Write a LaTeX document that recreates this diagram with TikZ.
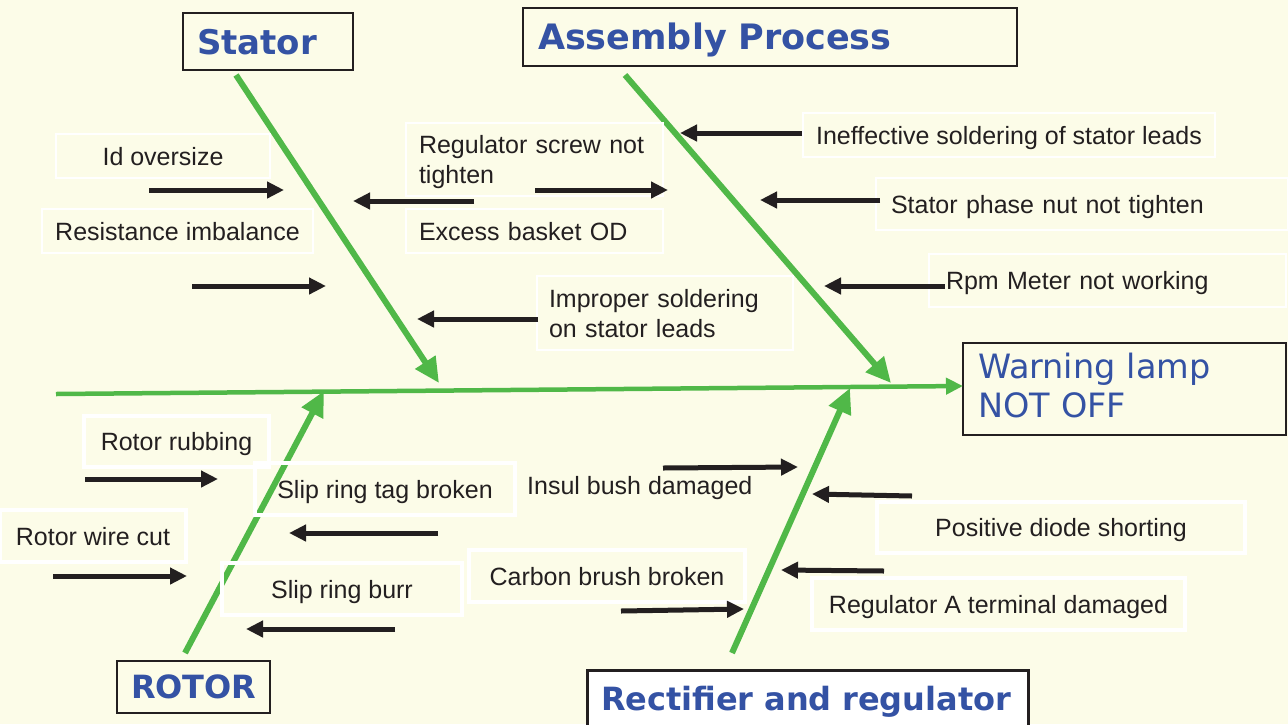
\documentclass[tikz,border=0pt]{standalone}
\usepackage{fontspec}
\setmainfont{Liberation Sans}
\newfontfamily\titlefont{DejaVu Sans}
\usetikzlibrary{arrows.meta}
\definecolor{bgc}{HTML}{FCFCE8}
\definecolor{bone}{HTML}{50B848}
\definecolor{ttl}{HTML}{3452A4}
\definecolor{txt}{HTML}{231F20}
\tikzset{
  lbl/.style={draw=white, line width=1.5pt, font=\fontsize{25}{30}\selectfont, text=txt,
    text height=18pt, text depth=0pt, inner sep=0pt},
  lblb/.style={lbl, line width=4pt},
  lblleft/.style={align=left, text width=#1},
  catbox/.style={draw=txt, line width=1.3pt, text=ttl, inner xsep=14pt, inner ysep=0pt,
    text height=25pt, text depth=0pt, align=left},
  cause/.style={draw=txt, line width=5pt, -{Triangle[length=17pt,width=16pt]}},
  bonearrow/.style={draw=bone, line width=6pt, -{Triangle[length=25pt,width=23pt]}},
  spinearrow/.style={draw=bone, line width=4.5pt, -{Triangle[length=17pt,width=16pt]}}
}
\begin{document}
\begin{tikzpicture}[x=1pt,y=-1pt]
\path[use as bounding box, fill=bgc] (0,0) rectangle (1288,724);
\clip (0,0) rectangle (1288,724);

% category boxes
\node[catbox, minimum width=170pt, minimum height=57pt, text width=142pt,
  font=\titlefont\bfseries\fontsize{34}{40}\selectfont] (stator) at (268,41.5) {Stator};
\node[catbox, minimum width=494pt, minimum height=58pt, text width=464pt, inner xsep=15pt,
  font=\titlefont\bfseries\fontsize{35}{40}\selectfont] (assembly) at (770,37) {Assembly Process};
\node[catbox, minimum width=153pt, minimum height=52pt, text width=125pt,
  font=\titlefont\bfseries\fontsize{32}{38}\selectfont, text height=23pt] (rotor) at (193.5,687) {ROTOR};
\node[catbox, line width=3pt, fill=white, minimum width=441pt, minimum height=57pt, text width=413pt,
  font=\titlefont\bfseries\fontsize{32}{38}\selectfont, text height=23pt] (rectifier) at (807.5,698.5) {Rectifier and regulator};
\node[catbox, line width=1.8pt, minimum width=323pt, minimum height=92pt, text width=293pt, inner xsep=15pt,
  font=\titlefont\fontsize{33.5}{39}\selectfont, text height=25pt, text depth=47pt] (effect) at (1124.5,389) {Warning lamp\\NOT OFF};

% spine and bones
\coordinate (spineS) at (56,394);
\coordinate (spineE) at (963,386);
\draw[spinearrow] (spineS) -- (spineE);
\coordinate (b1s) at (236,75);   \coordinate (b1e) at (439,383);
\coordinate (b2s) at (625,75);   \coordinate (b2e) at (891,383);
\coordinate (b3s) at (185,653);  \coordinate (b3e) at (324,391);
\coordinate (b4s) at (732,653);  \coordinate (b4e) at (850,388);
\draw[bonearrow] (b1s) -- (b1e);
\draw[bonearrow] (b2s) -- (b2e);
\draw[bonearrow] (b3s) -- (b3e);
\draw[bonearrow] (b4s) -- (b4e);

% labels
\node[lbl, minimum width=214pt, minimum height=44pt] (l1) at (163,156) {Id oversize};
\node[lbl, minimum width=271pt, minimum height=44pt] (l2) at (177.5,231) {Resistance imbalance};
\node[lbl, lblleft=231pt, minimum width=257pt, minimum height=73pt, text depth=30pt] (l3) at (534.5,159.5) {Regulator screw not\\tighten};
\node[lbl, lblleft=231pt, minimum width=257pt, minimum height=44pt] (l4) at (534.5,231) {Excess basket OD};
\node[lbl, lblleft=232pt, minimum width=256pt, minimum height=74pt, text depth=30pt] (l5) at (665,313) {Improper soldering\\on stator leads};
\node[lbl, minimum width=412pt, minimum height=44pt] (l6) at (1009,135) {Ineffective soldering of stator leads};
\node[lbl, lblleft=382pt, minimum width=412pt, minimum height=52pt] (l7) at (1082,204) {Stator phase nut not tighten};
\node[lbl, lblleft=323pt, minimum width=357pt, minimum height=53pt] (l8) at (1107.5,280.5) {Rpm Meter not working};
\node[lblb, minimum width=185pt, minimum height=51pt] (l9) at (176.5,441.5) {Rotor rubbing};
\node[lblb, minimum width=260pt, minimum height=52pt] (l10) at (385,489) {Slip ring tag broken};
\node[lblb, minimum width=186pt, minimum height=52pt] (l11) at (93,536) {Rotor wire cut};
\node[lblb, minimum width=240pt, minimum height=52pt] (l12) at (342,589) {Slip ring burr};
\node[font=\fontsize{25}{30}\selectfont, text=txt, inner sep=0pt, anchor=base west] (l13) at (527,494) {Insul bush damaged};
\node[lblb, minimum width=276pt, minimum height=52pt] (l14) at (607,576) {Carbon brush broken};
\node[lblb, minimum width=368pt, minimum height=51pt] (l15) at (1061,527.5) {Positive diode shorting};
\node[lblb, minimum width=373pt, minimum height=52pt] (l16) at (998.5,604) {Regulator A terminal damaged};

% cause arrows
\coordinate (a1s) at (149,190);  \coordinate (a1e) at (284,190);
\coordinate (a2s) at (474,201);  \coordinate (a2e) at (353,201);
\coordinate (a3s) at (535,190);  \coordinate (a3e) at (668,190);
\coordinate (a4s) at (802,133);  \coordinate (a4e) at (680,133);
\coordinate (a5s) at (880,200);  \coordinate (a5e) at (760,200);
\coordinate (a6s) at (945,286);  \coordinate (a6e) at (824,286);
\coordinate (a7s) at (192,286);  \coordinate (a7e) at (326,286);
\coordinate (a8s) at (538,319);  \coordinate (a8e) at (417,319);
\coordinate (a9s) at (85,479);   \coordinate (a9e) at (218,479);
\coordinate (a10s) at (438,533); \coordinate (a10e) at (289,533);
\coordinate (a11s) at (53,576);  \coordinate (a11e) at (187,576);
\coordinate (a12s) at (395,629); \coordinate (a12e) at (246,629);
\coordinate (a13s) at (663,468); \coordinate (a13e) at (798,467);
\coordinate (a14s) at (912,496); \coordinate (a14e) at (812,494);
\coordinate (a15s) at (621,611); \coordinate (a15e) at (744,609);
\coordinate (a16s) at (884,571); \coordinate (a16e) at (781,570);
\foreach \i in {1,...,16} {\draw[cause] (a\i s) -- (a\i e);}
\end{tikzpicture}
\end{document}
